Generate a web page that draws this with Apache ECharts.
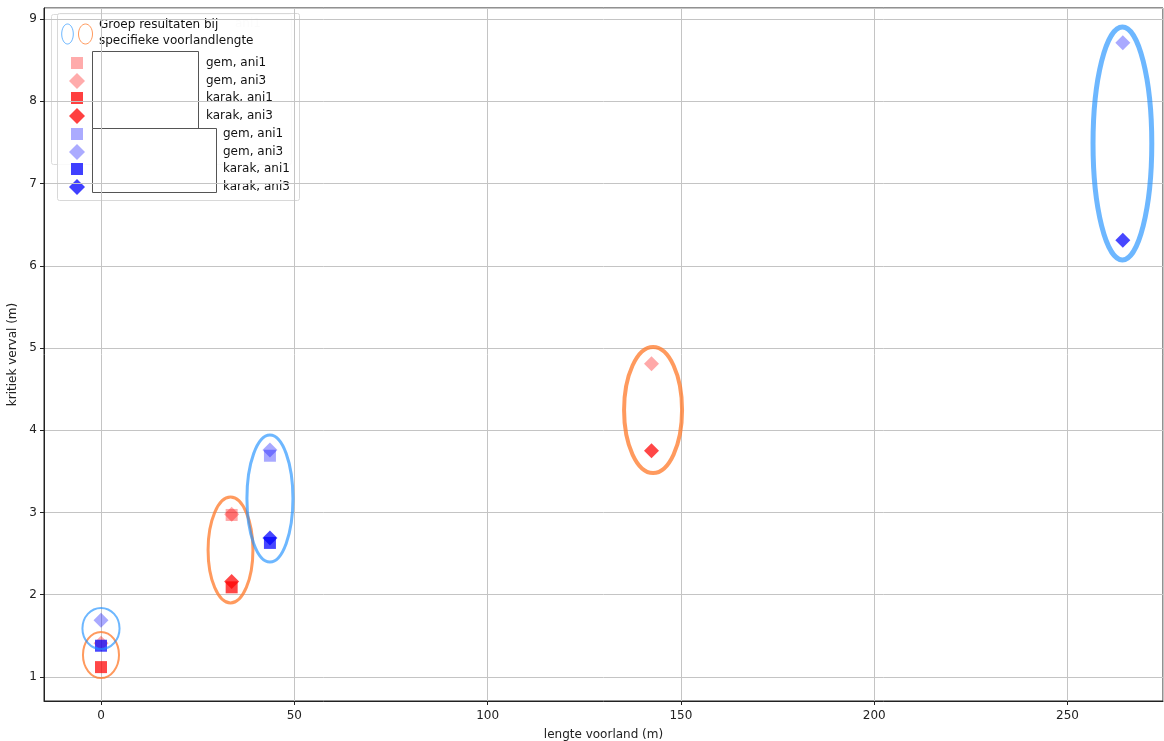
<!DOCTYPE html>
<html>
<head>
<meta charset="utf-8">
<script src="https://cdn.jsdelivr.net/npm/echarts@6/dist/echarts.min.js"></script>
<style>
  html, body { margin: 0; padding: 0; background: #fff; }
  #chart { width: 1164px; height: 741px; }
</style>
</head>
<body>
<div id="chart"></div>
<script>
// Voorlandlengte (m) per groep
const redX = [0, 33.8, 142.4];
const blueX = [0, 43.7, 264.3];

// Kritiek verval (m); null = geen resultaat
const redGemAni1 = [null, 2.97, null];
const redGemAni3 = [1.41, 2.98, 4.81];
const redKarakAni1 = [1.12, 2.09, null];
const redKarakAni3 = [null, 2.16, 3.75];

const blueGemAni1 = [null, 3.69, null];
const blueGemAni3 = [1.69, 3.76, 8.71];
const blueKarakAni1 = [1.38, 2.63, null];
const blueKarakAni3 = [null, 2.69, 6.31];

// Groepsellipsen: middelpunt en halve assen in data-eenheden
const redGroupCx = [0, 33.5, 142.8];
const redGroupCy = [1.267, 2.544, 4.246];
const redGroupRx = [4.66, 5.8, 7.5];
const redGroupRy = [0.28, 0.644, 0.766];

const blueGroupCx = [0, 43.7, 264.2];
const blueGroupCy = [1.59, 3.17, 7.486];
const blueGroupRx = [4.8, 5.95, 7.6];
const blueGroupRy = [0.25, 0.772, 1.416];

const seriesNames = ['gem, ani1', 'gem, ani3', 'karak, ani1', 'karak, ani3'];

const FONT = 'DejaVu Sans';
// kleuren in de grafiek
const RED_LIGHT = 'rgba(255,0,0,0.42)';
const RED_DARK = 'rgba(255,0,0,0.9)';
const BLUE_LIGHT = 'rgba(0,0,255,0.42)';
const BLUE_DARK = 'rgba(0,0,255,0.9)';
// kleuren in de legenda
const RED_LIGHT_KEY = 'rgba(255,0,0,0.33)';
const RED_DARK_KEY = 'rgba(255,0,0,0.75)';
const BLUE_LIGHT_KEY = 'rgba(0,0,255,0.33)';
const BLUE_DARK_KEY = 'rgba(0,0,255,0.75)';
const ORANGE_RING = 'rgba(255,120,40,0.75)';
const BLUE_RING = 'rgba(30,144,255,0.65)';
const redRingWidths = [2, 3, 4];
const blueRingWidths = [2, 3, 5];

function pairs(xs, ys) {
  const out = [];
  xs.forEach((x, i) => { if (ys[i] !== null) out.push([x, ys[i]]); });
  return out;
}

function scatter(name, xs, ys, symbol, color) {
  return {
    type: 'scatter',
    name: name,
    data: pairs(xs, ys),
    symbol: symbol,
    symbolSize: symbol === 'rect' ? 12 : 15,
    itemStyle: { color: color },
    emphasis: { disabled: true },
    silent: true,
    z: 3
  };
}

function ringSeries(cx, cy, rx, ry, color, widths) {
  return {
    type: 'custom',
    silent: true,
    z: 4,
    data: cx.map((x, i) => [x, cy[i], rx[i], ry[i]]),
    renderItem: function (params, api) {
      const c = api.coord([api.value(0), api.value(1)]);
      const s = api.size([api.value(2), api.value(3)]);
      return {
        type: 'ellipse',
        shape: { cx: c[0], cy: c[1], rx: s[0], ry: s[1] },
        style: { fill: 'none', stroke: color, lineWidth: widths[params.dataIndex] }
      };
    }
  };
}

// Legenda
const legendRows = [
  { y: 63, color: RED_LIGHT_KEY, symbol: 'rect', label: seriesNames[0], tx: 206 },
  { y: 81, color: RED_LIGHT_KEY, symbol: 'diamond', label: seriesNames[1], tx: 206 },
  { y: 98, color: RED_DARK_KEY, symbol: 'rect', label: seriesNames[2], tx: 206 },
  { y: 116, color: RED_DARK_KEY, symbol: 'diamond', label: seriesNames[3], tx: 206 },
  { y: 134, color: BLUE_LIGHT_KEY, symbol: 'rect', label: seriesNames[0], tx: 223 },
  { y: 152, color: BLUE_LIGHT_KEY, symbol: 'diamond', label: seriesNames[1], tx: 223 },
  { y: 169, color: BLUE_DARK_KEY, symbol: 'rect', label: seriesNames[2], tx: 223 },
  { y: 187, color: BLUE_DARK_KEY, symbol: 'diamond', label: seriesNames[3], tx: 223 }
];

const legendEls = [];
// achterliggende legenda
legendEls.push({ type: 'rect', shape: { x: 51.5, y: 14.5, width: 240, height: 150, r: 2 },
  style: { fill: 'rgba(255,255,255,0.8)', stroke: '#dcdcdc', lineWidth: 1 } });
legendEls.push({ type: 'text', x: 235, y: 24, style: { text: 'ani1', font: '12px "' + FONT + '"', fill: '#e4e4e4', verticalAlign: 'middle' } });
// hoofdlegenda
legendEls.push({ type: 'rect', shape: { x: 57.5, y: 13.5, width: 242, height: 187, r: 2 },
  style: { fill: 'rgba(255,255,255,0.85)', stroke: '#d8d8d8', lineWidth: 1 } });
legendEls.push({ type: 'ellipse', shape: { cx: 67.5, cy: 34, rx: 5.8, ry: 10 },
  style: { fill: 'none', stroke: BLUE_RING, lineWidth: 1 } });
legendEls.push({ type: 'ellipse', shape: { cx: 85.5, cy: 34, rx: 7, ry: 10 },
  style: { fill: 'none', stroke: ORANGE_RING, lineWidth: 1 } });
legendEls.push({ type: 'text', x: 99, y: 25, style: { text: 'Groep resultaten bij', font: '12px "' + FONT + '"', fill: '#111', verticalAlign: 'middle' } });
legendEls.push({ type: 'text', x: 99, y: 41, style: { text: 'specifieke voorlandlengte', font: '12px "' + FONT + '"', fill: '#111', verticalAlign: 'middle' } });
legendRows.forEach(r => {
  if (r.symbol === 'rect') {
    legendEls.push({ type: 'rect', shape: { x: 71, y: r.y - 6, width: 12, height: 12 }, style: { fill: r.color } });
  } else {
    legendEls.push({ type: 'polygon', shape: { points: [[77, r.y - 8], [85, r.y], [77, r.y + 8], [69, r.y]] }, style: { fill: r.color } });
  }
  legendEls.push({ type: 'text', x: r.tx, y: r.y, style: { text: r.label, font: '12px "' + FONT + '"', fill: '#111', verticalAlign: 'middle' } });
});
legendEls.push({ type: 'rect', shape: { x: 92.5, y: 51.5, width: 106, height: 77 }, style: { fill: '#fff', stroke: '#555', lineWidth: 1 } });
legendEls.push({ type: 'rect', shape: { x: 92.5, y: 128.5, width: 124, height: 64 }, style: { fill: '#fff', stroke: '#555', lineWidth: 1 } });

const chart = echarts.init(document.getElementById('chart'), null, { renderer: 'canvas' });

const axisText = { fontFamily: FONT, fontSize: 12, color: '#222' };

chart.setOption({
  animation: false,
  backgroundColor: '#fff',
  grid: {
    left: 44, right: 1, top: 8, bottom: 40,
    containLabel: false, outerBoundsMode: 'none',
    show: true, borderColor: '#222', borderWidth: 1
  },
  xAxis: {
    type: 'value',
    min: -14.74, max: 274.7,
    splitNumber: 5,
    name: 'lengte voorland (m)',
    nameLocation: 'middle',
    nameGap: 28,
    nameTextStyle: axisText,
    axisLine: { show: true, onZero: false, lineStyle: { color: '#222', width: 1 } },
    axisTick: { show: true, length: 4, lineStyle: { color: '#222' } },
    axisLabel: Object.assign({ margin: 9, showMinLabel: false, showMaxLabel: false,
      formatter: v => (Math.abs(v % 50) < 1e-6 ? String(v) : '') }, axisText),
    splitLine: { show: true, lineStyle: { color: '#c4c4c4', width: 1 } }
  },
  yAxis: {
    type: 'value',
    min: 0.708, max: 9.134,
    splitNumber: 8,
    name: 'kritiek verval (m)',
    nameLocation: 'middle',
    nameGap: 22,
    nameTextStyle: axisText,
    axisLine: { show: true, onZero: false, lineStyle: { color: '#222', width: 1 } },
    axisTick: { show: true, length: 4, lineStyle: { color: '#222' } },
    axisLabel: Object.assign({ margin: 7, showMinLabel: false, showMaxLabel: false,
      formatter: v => (Math.abs(v - Math.round(v)) < 1e-6 ? String(Math.round(v)) : '') }, axisText),
    splitLine: { show: true, lineStyle: { color: '#c4c4c4', width: 1 } }
  },
  graphic: { elements: [{ type: 'group', z: 100, children: legendEls }] },
  series: [
    scatter(seriesNames[0], redX, redGemAni1, 'rect', RED_LIGHT),
    scatter(seriesNames[1], redX, redGemAni3, 'diamond', RED_LIGHT),
    scatter(seriesNames[2], redX, redKarakAni1, 'rect', RED_DARK),
    scatter(seriesNames[3], redX, redKarakAni3, 'diamond', RED_DARK),
    scatter(seriesNames[0], blueX, blueGemAni1, 'rect', BLUE_LIGHT),
    scatter(seriesNames[1], blueX, blueGemAni3, 'diamond', BLUE_LIGHT),
    scatter(seriesNames[2], blueX, blueKarakAni1, 'rect', BLUE_DARK),
    scatter(seriesNames[3], blueX, blueKarakAni3, 'diamond', BLUE_DARK),
    ringSeries(redGroupCx, redGroupCy, redGroupRx, redGroupRy, ORANGE_RING, redRingWidths),
    ringSeries(blueGroupCx, blueGroupCy, blueGroupRx, blueGroupRy, BLUE_RING, blueRingWidths)
  ]
});
</script>
</body>
</html>
